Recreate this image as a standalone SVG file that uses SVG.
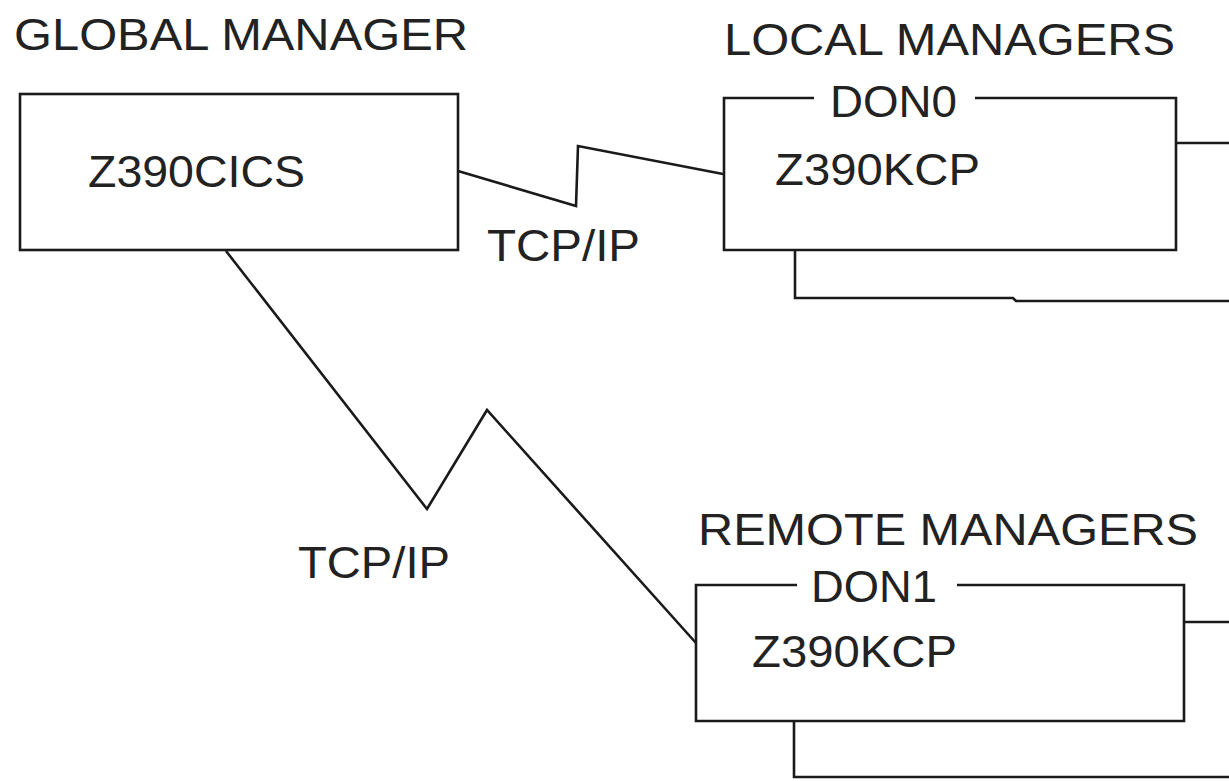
<svg xmlns="http://www.w3.org/2000/svg" width="1229" height="781" viewBox="0 0 1229 781">
<style>
.t{font-family:"Liberation Sans",Arial,sans-serif;font-size:44px;fill:#222;}
.ln{fill:none;stroke:#1a1a1a;stroke-width:2.6;stroke-linejoin:miter;}
</style>
<rect width="1229" height="781" fill="#ffffff"/>
<g id="global-manager">
<text class="t" x="14" y="50" textLength="454" lengthAdjust="spacingAndGlyphs">GLOBAL MANAGER</text>
<rect class="ln" x="20" y="94" width="438" height="156"/>
<text class="t" x="88" y="187" textLength="217" lengthAdjust="spacingAndGlyphs">Z390CICS</text>
</g>
<g id="local-managers">
<text class="t" x="724" y="55" textLength="451" lengthAdjust="spacingAndGlyphs">LOCAL MANAGERS</text>
<path class="ln" d="M814,98 H724 V250 H1176 V98 H975"/>
<text class="t" x="830" y="117" textLength="127" lengthAdjust="spacingAndGlyphs">DON0</text>
<text class="t" x="775" y="185" textLength="205" lengthAdjust="spacingAndGlyphs">Z390KCP</text>
<path class="ln" d="M1176,143 H1229"/>
<path class="ln" d="M795,250 V298 H1013 L1016,301 H1229"/>
</g>
<g id="remote-managers">
<text class="t" x="698" y="545" textLength="500" lengthAdjust="spacingAndGlyphs">REMOTE MANAGERS</text>
<path class="ln" d="M797,585 H696 V721 H1184 V585 H957"/>
<text class="t" x="811" y="602" textLength="126" lengthAdjust="spacingAndGlyphs">DON1</text>
<text class="t" x="752" y="667" textLength="205" lengthAdjust="spacingAndGlyphs">Z390KCP</text>
<path class="ln" d="M1184,622 H1229"/>
<path class="ln" d="M794,721 V777 H1229"/>
</g>
<g id="connectors">
<path class="ln" d="M458,171 L576,206 L578,146 L723,174"/>
<text class="t" x="487" y="261" textLength="153" lengthAdjust="spacingAndGlyphs">TCP/IP</text>
<path class="ln" d="M226,251 L427,509 L487,410 L696,643"/>
<text class="t" x="298" y="578" textLength="152" lengthAdjust="spacingAndGlyphs">TCP/IP</text>
</g>
</svg>
